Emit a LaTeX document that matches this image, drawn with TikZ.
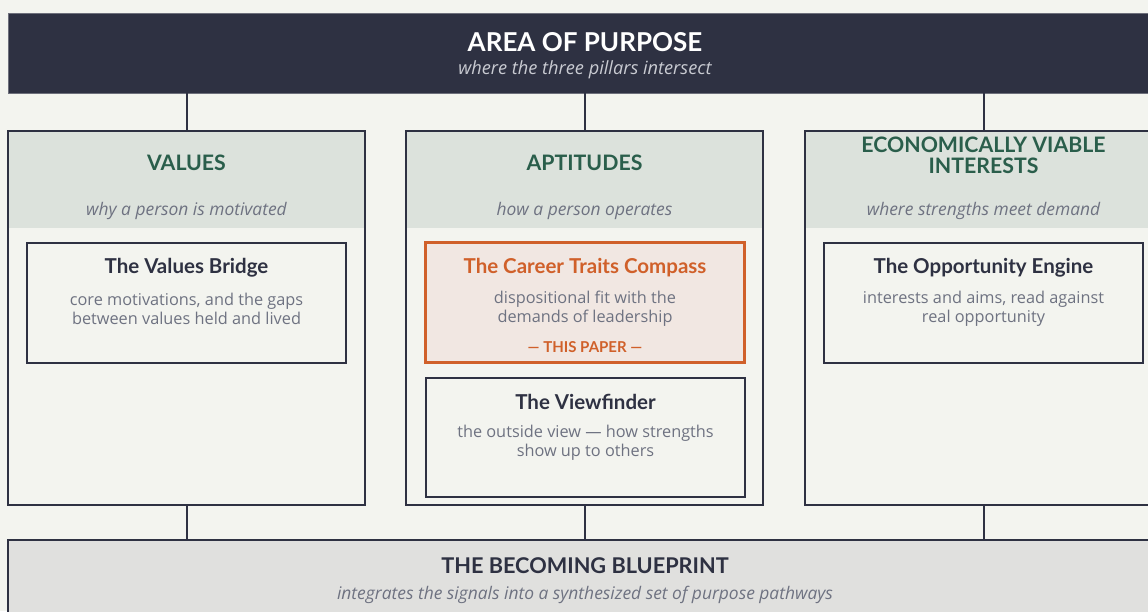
\documentclass[tikz,border=0pt]{standalone}
\usepackage{fontspec}
\setmainfont{Lato}
\newfontfamily\bodyfont{Open Sans}
\usetikzlibrary{calc}
\definecolor{paper}{HTML}{F3F4EF}
\definecolor{ink}{HTML}{2E3142}
\definecolor{band}{HTML}{DCE2DC}
\definecolor{pine}{HTML}{2A5E4B}
\definecolor{muted}{HTML}{6E7281}
\definecolor{rust}{HTML}{D0602A}
\definecolor{blush}{HTML}{F1E7E2}
\definecolor{slab}{HTML}{E0E0DE}
\definecolor{haze}{HTML}{C9CBD2}
\begin{document}
\begin{tikzpicture}[x=1pt,y=-1pt,
  column/.style={draw=ink, line width=2.4pt, minimum width=357pt, minimum height=374pt, inner sep=0pt,
    path picture={\fill[band] (path picture bounding box.north west) rectangle ([yshift=-97pt]path picture bounding box.north east);}},
  card/.style={draw=ink, line width=2pt, fill=paper, minimum width=319pt, minimum height=120pt, inner sep=0pt},
  focus/.style={draw=rust, line width=3pt, fill=blush, minimum width=319pt, minimum height=120pt, inner sep=0pt},
  link/.style={draw=ink, line width=2pt},
  pillar/.style={text=pine, font=\fontsize{21.3}{21}\selectfont\bfseries, align=center},
  tagline/.style={text=muted, font=\bodyfont\fontsize{17.4}{18}\selectfont\itshape},
  cardtitle/.style={text=ink, font=\fontsize{20.5}{20}\selectfont\bfseries},
  cardbody/.style={text=muted, font=\bodyfont\fontsize{16.3}{19}\selectfont, align=center},
]
\fill[paper] (0,0) rectangle (1148,611);
\useasboundingbox (0,0) rectangle (1148,611);
\clip (0,0) rectangle (1148,611);

% top banner
\node[fill=ink, draw=ink!70, line width=0.6pt, minimum width=1152pt, minimum height=80pt, inner sep=0pt] (purpose) at (584,53) {};
\node[text=white, font=\fontsize{26}{26}\selectfont\bfseries] (purposeT) at (585,42) {AREA OF PURPOSE};
\node[text=haze, font=\bodyfont\fontsize{18.2}{18}\selectfont\itshape] (purposeS) at (585,70) {where the three pillars intersect};

% bottom slab
\node[fill=slab, draw=ink, line width=2pt, minimum width=1152pt, minimum height=80pt, inner sep=0pt] (blueprint) at (584,580) {};
\node[text=ink, font=\fontsize{21.7}{23}\selectfont\bfseries] (blueprintT) at (585,566) {THE BECOMING BLUEPRINT};
\node[tagline] (blueprintS) at (585,595) {integrates the signals into a synthesized set of purpose pathways};

% three pillars
\node[column] (values) at (186.5,318) {};
\node[column] (apt) at (584.5,318) {};
\node[column] (econ) at (983.5,318) {};

\node[pillar] (valuesT) at (186.5,163) {VALUES};
\node[tagline] (valuesS) at (186.5,211) {why a person is motivated};
\node[pillar] (aptT) at (584.5,163) {APTITUDES};
\node[tagline] (aptS) at (584.5,211) {how a person operates};
\node[pillar] (econT) at (983.5,155) {ECONOMICALLY VIABLE\\INTERESTS};
\node[tagline] (econS) at (983.5,211) {where strengths meet demand};

% connectors
\draw[link] (values.north) -- (values.north |- purpose.south);
\draw[link] (apt.north) -- (apt.north |- purpose.south);
\draw[link] (econ.north) -- (econ.north |- purpose.south);
\draw[link] (values.south) -- (values.south |- blueprint.north);
\draw[link] (apt.south) -- (apt.south |- blueprint.north);
\draw[link] (econ.south) -- (econ.south |- blueprint.north);

% cards
\node[card] (bridge) at (186.5,303) {};
\node[cardtitle] (bridgeT) at (186.5,268) {The Values Bridge};
\node[cardbody] (bridgeB) at (186.5,308.5) {core motivations, and the gaps\\between values held and lived};

\node[focus] (compass) at (585,302.5) {};
\node[cardtitle, text=rust] (compassT) at (585,268) {The Career Traits Compass};
\node[cardbody] (compassB) at (585,308.5) {dispositional fit with the\\demands of leadership};
\node[text=rust, font=\fontsize{15}{14}\selectfont\bfseries] (compassP) at (585,347) {— THIS PAPER —};

\node[card, minimum height=119pt] (finder) at (585.5,437.5) {};
\node[cardtitle] (finderT) at (585.5,402) {The Viewfinder};
\node[cardbody] (finderB) at (585.5,442.5) {the outside view — how strengths\\show up to others};

\node[card] (engine) at (983.5,303) {};
\node[cardtitle] (engineT) at (983.5,268) {The Opportunity Engine};
\node[cardbody] (engineB) at (983.5,308.5) {interests and aims, read against\\real opportunity};
\end{tikzpicture}
\end{document}
